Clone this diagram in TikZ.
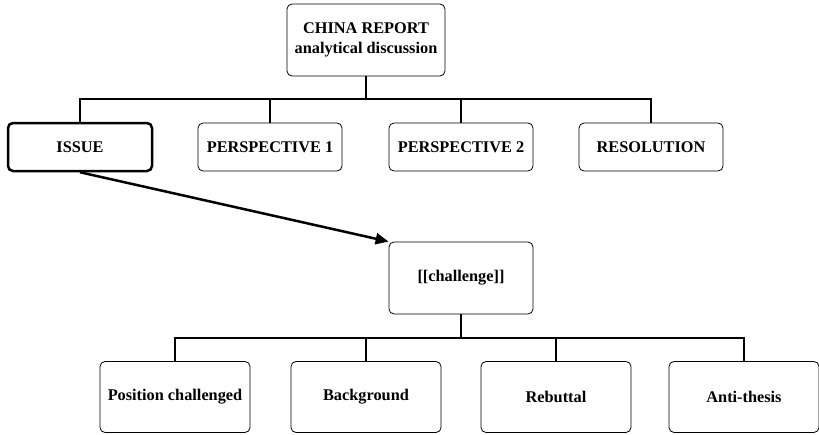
\documentclass[tikz,border=0pt]{standalone}
\usepackage{fontspec}
\setmainfont{Liberation Serif}
\usetikzlibrary{arrows.meta}

\begin{document}
\begin{tikzpicture}[x=1pt,y=-1pt]
    \tikzstyle{box}=[rectangle, rounded corners=5pt, draw, line width=0.8pt, align=center, font=\bfseries\fontsize{16.3}{20}\selectfont]
    \tikzstyle{head}=[box, minimum width=158pt, minimum height=72pt]
    \tikzstyle{part}=[box, minimum width=144pt, minimum height=48pt]
    \tikzstyle{leaf}=[box, minimum width=150pt, minimum height=71pt]
    \tikzstyle{fork}=[line width=1.3pt]

    \useasboundingbox (0,0) rectangle (819,434);

    \node[head] (report) at (366,40) {CHINA REPORT\\analytical discussion};
    \node[part, line width=2.5pt] (issue) at (80,147) {ISSUE};
    \node[part] (persp1) at (270,147) {PERSPECTIVE 1};
    \node[part] (persp2) at (461,147) {PERSPECTIVE 2};
    \node[part] (resol) at (651,147) {RESOLUTION};

    \node[head, minimum width=144pt] (chal) at (461,278) {[[challenge]]};
    \node[leaf] (posch) at (175,397) {Position challenged};
    \node[leaf] (backgr) at (366,397) {Background};
    \node[leaf] (rebut) at (556,397) {Rebuttal};
    \node[leaf] (antith) at (744,397) {Anti-thesis};

    \coordinate (bar1) at (366,99);
    \coordinate (bar2) at (461,338);
    \draw[fork] (report.south) -- (bar1);
    \draw[fork] (chal.south) -- (bar2);
    \foreach \n in {issue,persp1,persp2,resol}
        \draw[fork] (\n.north) |- (bar1);
    \foreach \n in {posch,backgr,rebut,antith}
        \draw[fork] (\n.north) |- (bar2);

    \draw[-{Triangle[length=13pt,width=11pt]}, line width=2.5pt] (issue.south) -- (chal.north west);
\end{tikzpicture}
\end{document}
